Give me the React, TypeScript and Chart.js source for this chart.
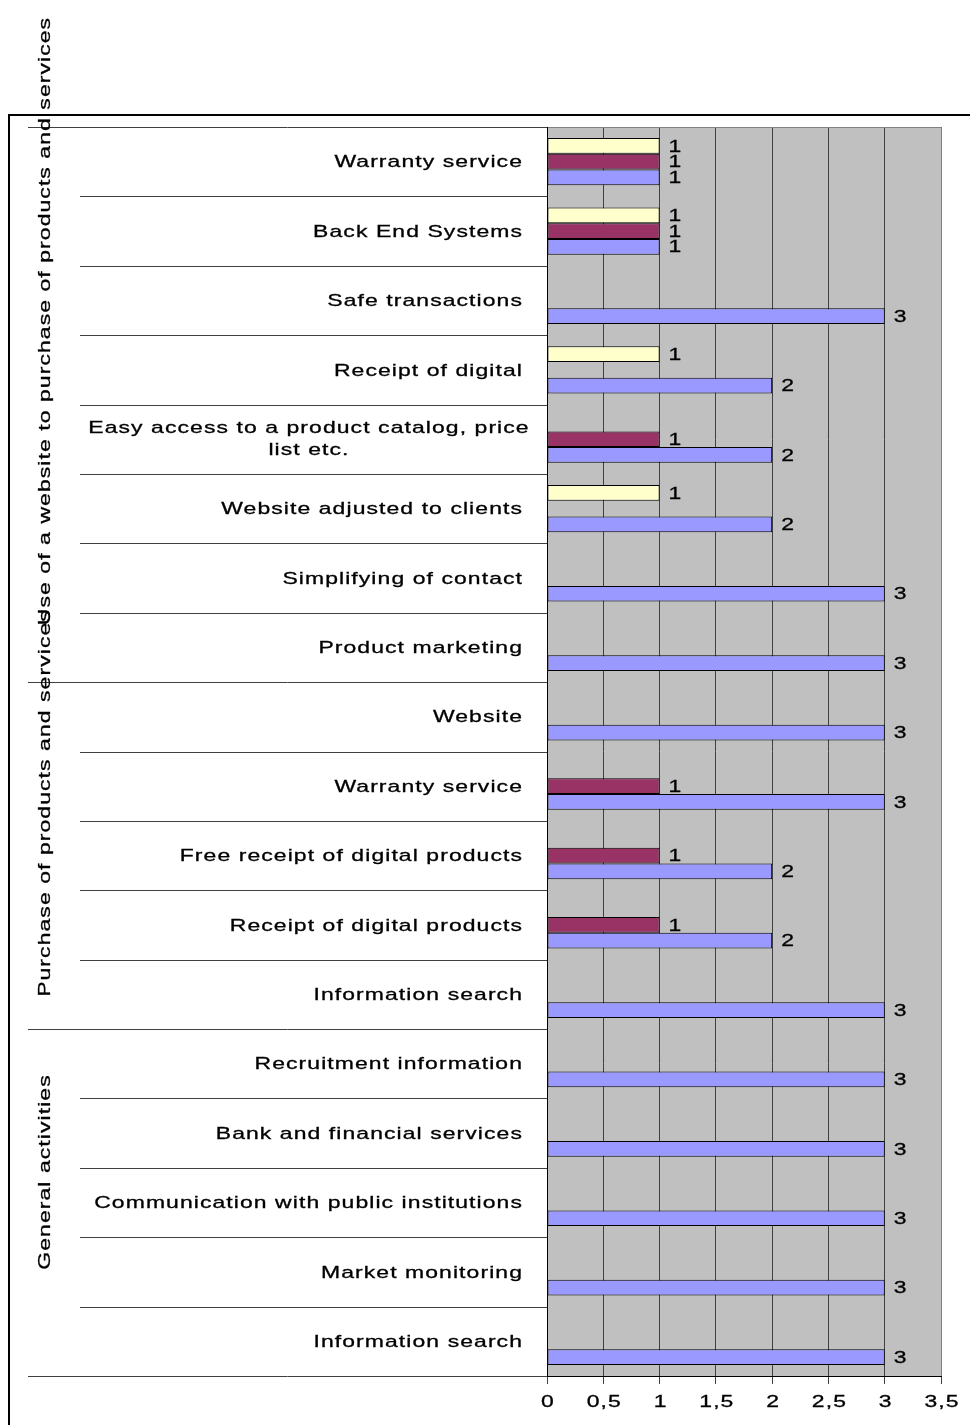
import React, { useEffect, useRef } from "react";
import { Chart, registerables } from "chart.js";

Chart.register(...registerables);

const categories: string[] = [
  "Warranty service",
  "Back End Systems",
  "Safe transactions",
  "Receipt of digital",
  "Easy access to a product catalog, price\nlist etc.",
  "Website adjusted to clients",
  "Simplifying of contact",
  "Product marketing",
  "Website",
  "Warranty service",
  "Free receipt of digital products",
  "Receipt of digital products",
  "Information search",
  "Recruitment information",
  "Bank and financial services",
  "Communication with public institutions",
  "Market monitoring",
  "Information search",
];

const yellowValues: (number | null)[] = [1, 1, null, 1, null, 1, null, null, null, null, null, null, null, null, null, null, null, null];
const purpleValues: (number | null)[] = [1, 1, null, null, 1, null, null, null, null, 1, 1, 1, null, null, null, null, null, null];
const blueValues: (number | null)[] = [1, 1, 3, 2, 2, 2, 3, 3, 3, 3, 2, 2, 3, 3, 3, 3, 3, 3];

const xTicks: number[] = [0, 0.5, 1, 1.5, 2, 2.5, 3, 3.5];

const groups = [
  { label: "Use of a website to purchase of products and services", start: 0, end: 8, center: 321 },
  { label: "Purchase of products and services", start: 8, end: 13, center: 803 },
  { label: "General activities", start: 13, end: 18, center: 1172 },
];

const FONT = '17px "Liberation Sans", Arial, sans-serif';
const SX = 1.35;
const LS = "0.8px";

function drawStretched(ctx: CanvasRenderingContext2D, text: string, x: number, y: number, align: "left" | "right" | "center", rot = 0) {
  ctx.save();
  ctx.font = FONT;
  (ctx as any).letterSpacing = LS;
  ctx.fillStyle = "#000";
  ctx.strokeStyle = "#000";
  ctx.lineWidth = 0.3;
  ctx.textBaseline = "middle";
  ctx.textAlign = "left";
  const w = ctx.measureText(text).width * SX;
  ctx.translate(x, y);
  if (rot) ctx.rotate(rot);
  let left = 0;
  if (align === "right") left = -w;
  else if (align === "center") left = -w / 2;
  ctx.translate(left, 0);
  ctx.scale(SX, 1);
  ctx.fillText(text, 0, 0);
  ctx.strokeText(text, 0, 0);
  ctx.restore();
}

const decorPlugin = {
  id: "decor",
  beforeDraw(chart: any) {
    const { ctx, chartArea } = chart;
    ctx.save();
    ctx.fillStyle = "#ffffff";
    ctx.fillRect(0, 0, chart.width, chart.height);
    ctx.fillStyle = "#C0C0C0";
    ctx.fillRect(chartArea.left, chartArea.top, chartArea.right - chartArea.left, chartArea.bottom - chartArea.top);
    ctx.restore();
  },
  afterDraw(chart: any) {
    const { ctx, chartArea } = chart;
    const xs = chart.scales.x;
    const n = categories.length;
    const step = (chartArea.bottom - chartArea.top) / n;

    ctx.save();
    ctx.strokeStyle = "#808080";
    ctx.lineWidth = 1;
    ctx.beginPath();
    ctx.moveTo(chartArea.left, chartArea.top + 0.5);
    ctx.lineTo(chartArea.right + 0.5, chartArea.top + 0.5);
    ctx.lineTo(chartArea.right + 0.5, chartArea.bottom);
    ctx.stroke();

    const groupBounds = new Set<number>();
    groups.forEach((g) => { groupBounds.add(g.start); groupBounds.add(g.end); });
    ctx.strokeStyle = "#404040";
    for (let k = 0; k <= n; k++) {
      const y = Math.round(chartArea.top + k * step) + 0.5;
      const x0 = groupBounds.has(k) ? 28 : 80;
      ctx.beginPath();
      ctx.moveTo(x0, y);
      ctx.lineTo(chartArea.left, y);
      ctx.stroke();
    }
    ctx.strokeStyle = "#000";
    ctx.beginPath();
    ctx.moveTo(chartArea.left + 0.5, chartArea.top);
    ctx.lineTo(chartArea.left + 0.5, chartArea.bottom + 1);
    ctx.stroke();
    ctx.restore();

    categories.forEach((c, i) => {
      const y = chartArea.top + (i + 0.5) * step;
      const lines = c.split("\n");
      if (lines.length > 1) {
        lines.forEach((ln, j) => {
          drawStretched(ctx, ln, 309, y + (j - (lines.length - 1) / 2) * 22, "center");
        });
      } else {
        drawStretched(ctx, c, 523, y + 1, "right");
      }
    });

    groups.forEach((g) => {
      drawStretched(ctx, g.label, 45, g.center, "center", -Math.PI / 2);
    });

    xTicks.forEach((v) => {
      const x = xs.getPixelForValue(v);
      drawStretched(ctx, String(v).replace(".", ","), x + 1, chartArea.bottom + 26, "center");
    });

    chart.data.datasets.forEach((ds: any, di: number) => {
      const meta = chart.getDatasetMeta(di);
      meta.data.forEach((el: any, i: number) => {
        const v = ds.data[i];
        if (v === null || v === undefined) return;
        drawStretched(ctx, String(v), el.x + 9, el.y + 1, "left");
      });
    });

    ctx.save();
    ctx.strokeStyle = "#000";
    ctx.lineWidth = 2;
    ctx.beginPath();
    ctx.moveTo(9, chart.height);
    ctx.lineTo(9, 115);
    ctx.lineTo(chart.width, 115);
    ctx.stroke();
    ctx.restore();
  },
};

export default function App() {
  const ref = useRef<HTMLCanvasElement>(null);
  useEffect(() => {
    if (!ref.current) return;
    const chart = new Chart(ref.current, {
      type: "bar",
      data: {
        labels: categories,
        datasets: [
          { label: "Series 3", data: yellowValues, backgroundColor: "#FFFFCC", borderColor: "#000", borderWidth: 1, borderSkipped: false },
          { label: "Series 2", data: purpleValues, backgroundColor: "#993366", borderColor: "#000", borderWidth: 1, borderSkipped: false },
          { label: "Series 1", data: blueValues, backgroundColor: "#9999FF", borderColor: "#000", borderWidth: 1, borderSkipped: false },
        ],
      },
      options: {
        indexAxis: "y",
        responsive: false,
        animation: false,
        events: [],
        layout: { padding: { left: 547, top: 127, right: 29, bottom: 0 } },
        datasets: { bar: { categoryPercentage: 0.68, barPercentage: 1 } },
        plugins: { legend: { display: false }, tooltip: { enabled: false } },
        scales: {
          y: { type: "category", display: false },
          x: {
            type: "linear",
            min: 0,
            max: 3.5,
            ticks: { stepSize: 0.5, display: false },
            grid: { color: "#404040", lineWidth: 1, tickLength: 8, drawTicks: true },
            border: { color: "#000", width: 1 },
            afterFit: (s: any) => { s.height = 49; },
          },
        },
      } as any,
      plugins: [decorPlugin],
    });
    return () => chart.destroy();
  }, []);
  return (
    <div style={{ position: "absolute", left: 0, top: 0, width: 970, height: 1425 }}>
      <canvas ref={ref} width={970} height={1425} style={{ width: 970, height: 1425, display: "block" }} />
    </div>
  );
}
